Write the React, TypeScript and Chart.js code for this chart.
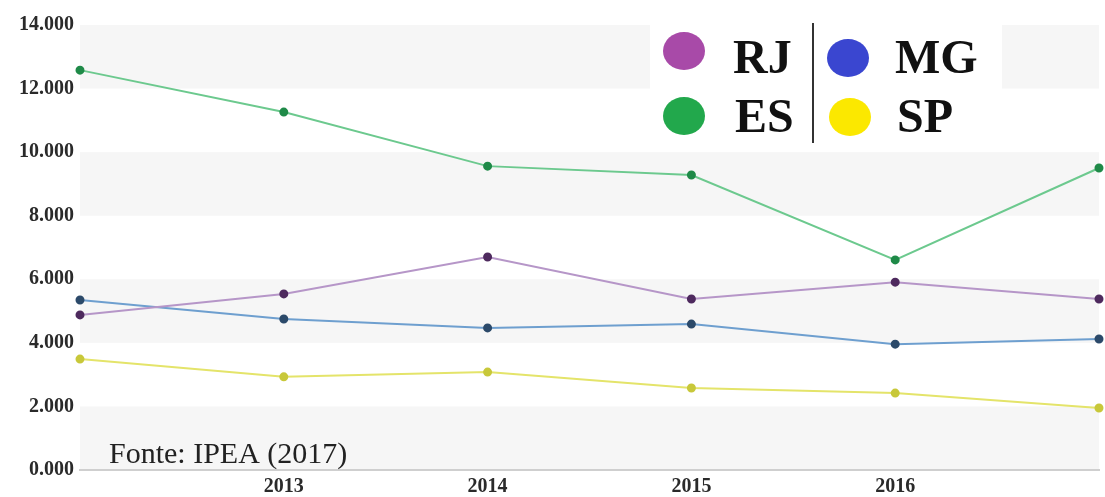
import React, { useEffect, useRef } from 'react';
import { Chart, registerables } from 'chart.js';

Chart.register(...registerables);

const years = ['2012', '2013', '2014', '2015', '2016', '2017'];
const xTickLabels = ['', '2013', '2014', '2015', '2016', ''];
const yTickLabels = ['0.000', '2.000', '4.000', '6.000', '8.000', '10.000', '12.000', '14.000'];

const rjValues = [4880, 5540, 6700, 5380, 5910, 5380];
const esValues = [12580, 11260, 9560, 9280, 6610, 9500];
const mgValues = [5350, 4750, 4470, 4590, 3960, 4120];
const spValues = [3490, 2930, 3080, 2580, 2420, 1950];

const legendNames = ['RJ', 'ES', 'MG', 'SP'];
const sourceNote = 'Fonte: IPEA (2017)';

const SERIF = '"Liberation Serif", "Times New Roman", serif';

const bandsPlugin = {
  id: 'bands',
  beforeDraw(chart: any) {
    const { ctx, chartArea } = chart;
    const y = chart.scales.y;
    ctx.save();
    ctx.fillStyle = '#f6f6f6';
    for (let i = 0; i < 7; i += 2) {
      const top = y.getPixelForValue((i + 1) * 2000);
      const bottom = y.getPixelForValue(i * 2000);
      ctx.fillRect(chartArea.left, top, chartArea.right - chartArea.left, bottom - top);
    }
    ctx.restore();
  },
};

const overlayPlugin = {
  id: 'overlay',
  afterDraw(chart: any) {
    const { ctx } = chart;
    ctx.save();
    ctx.fillStyle = '#222222';
    ctx.font = `30px ${SERIF}`;
    ctx.textAlign = 'left';
    ctx.textBaseline = 'alphabetic';
    ctx.fillText(sourceNote, 109, 463);
    ctx.restore();
  },
  beforeDatasetsDraw(chart: any) {
    const { ctx } = chart;
    ctx.save();
    ctx.fillStyle = '#ffffff';
    ctx.fillRect(650, 25, 352, 120);
    const items = [
      { name: legendNames[0], color: '#a84aa8', cx: 684, cy: 51, tx: 733, ty: 73 },
      { name: legendNames[1], color: '#22a84c', cx: 684, cy: 116, tx: 735, ty: 132 },
      { name: legendNames[2], color: '#3a46d0', cx: 848, cy: 58, tx: 895, ty: 73 },
      { name: legendNames[3], color: '#fbe800', cx: 850, cy: 117, tx: 897, ty: 132 },
    ];
    ctx.font = `bold 48px ${SERIF}`;
    ctx.textAlign = 'left';
    ctx.textBaseline = 'alphabetic';
    for (const it of items) {
      ctx.fillStyle = it.color;
      ctx.beginPath();
      ctx.ellipse(it.cx, it.cy, 21, 19, 0, 0, Math.PI * 2);
      ctx.fill();
      ctx.fillStyle = '#111111';
      ctx.fillText(it.name, it.tx, it.ty);
    }
    ctx.strokeStyle = '#333333';
    ctx.lineWidth = 2;
    ctx.beginPath();
    ctx.moveTo(813, 23);
    ctx.lineTo(813, 143);
    ctx.stroke();
    ctx.restore();
  },
};

function ds(label: string, data: number[], line: string, point: string) {
  return {
    label,
    data,
    borderColor: line,
    backgroundColor: point,
    pointBackgroundColor: point,
    pointBorderColor: point,
    pointRadius: 3.5,
    borderWidth: 2,
    tension: 0,
    fill: false,
  };
}

export default function App() {
  const ref = useRef<HTMLCanvasElement>(null);
  useEffect(() => {
    if (!ref.current) return;
    const chart = new Chart(ref.current, {
      type: 'line',
      data: {
        labels: years,
        datasets: [
          ds(legendNames[1], esValues, '#6cc98e', '#1f8a48'),
          ds(legendNames[0], rjValues, '#b696c8', '#4e2a5e'),
          ds(legendNames[2], mgValues, '#6e9fcf', '#2c4a6a'),
          ds(legendNames[3], spValues, '#e4e46a', '#c8c83a'),
        ],
      },
      options: {
        animation: false,
        responsive: true,
        maintainAspectRatio: false,
        layout: { padding: { top: 25, right: 1, left: 0, bottom: 0 } },
        plugins: { legend: { display: false }, tooltip: { enabled: false } },
        scales: {
          x: {
            offset: false,
            grid: { display: false, drawTicks: false },
            border: { display: true, color: '#cfcfcf', width: 2 },
            ticks: {
              padding: 5,
              color: '#2a2a2a',
              font: { family: SERIF, size: 20, weight: 'bold' },
              autoSkip: false,
              maxRotation: 0,
              callback: (_v: any, i: number) => xTickLabels[i],
            },
            afterFit: (s: any) => { s.height = 27; },
          },
          y: {
            min: 0,
            max: 14000,
            grid: { display: false, drawTicks: false },
            border: { display: false },
            ticks: {
              stepSize: 2000,
              padding: 6,
              color: '#2a2a2a',
              font: { family: SERIF, size: 20, weight: 'bold' },
              callback: (v: any) => yTickLabels[Math.round(Number(v) / 2000)],
            },
            afterFit: (s: any) => { s.width = 80; },
          },
        },
      },
      plugins: [bandsPlugin, overlayPlugin],
    });
    return () => chart.destroy();
  }, []);
  return (
    <div style={{ position: 'absolute', left: 0, top: 0, width: 1105, height: 497, background: '#fff' }}>
      <canvas ref={ref} />
    </div>
  );
}
